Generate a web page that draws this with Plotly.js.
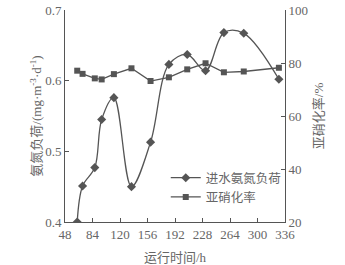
<!DOCTYPE html>
<html>
<head>
<meta charset="utf-8">
<script src="https://cdn.plot.ly/plotly-3.0.1.min.js"></script>
<style>html,body{margin:0;padding:0;background:#fff;}#chart{width:345px;height:265px;}</style>
</head>
<body>
<div id="chart"></div>
<script>
const hours = [64, 71, 87, 96, 112, 135, 160, 184, 208, 232, 256, 282, 328];
const ammoniaLoad = [0.40, 0.451, 0.477, 0.545, 0.576, 0.450, 0.513, 0.623, 0.637, 0.614, 0.668, 0.667, 0.602];
const nitritationRate = [77.1, 75.9, 74.2, 73.8, 75.8, 78.0, 73.2, 74.6, 77.6, 79.9, 76.5, 76.8, 78.2];
const xTicks = [48, 84, 120, 156, 192, 228, 264, 300, 336];
const seriesNames = ['进水氨氮负荷', '亚硝化率'];

const fontFam = '"Liberation Serif", "Noto Sans CJK SC", serif';
const ink = '#555';
const txt = '#666';

const traces = [
  {
    x: hours, y: ammoniaLoad, name: seriesNames[0], type: 'scatter', mode: 'lines+markers',
    line: {color: ink, width: 1.3, shape: 'spline', smoothing: 1.0},
    marker: {symbol: 'diamond', size: 7, color: ink},
    yaxis: 'y'
  },
  {
    x: hours, y: nitritationRate, name: seriesNames[1], type: 'scatter', mode: 'lines+markers',
    line: {color: ink, width: 1.3},
    marker: {symbol: 'square', size: 6, color: ink},
    yaxis: 'y2'
  }
];

const layout = {
  width: 345, height: 265,
  margin: {l: 65, r: 60, t: 10, b: 43},
  paper_bgcolor: '#fff', plot_bgcolor: '#fff',
  font: {family: fontFam, size: 13, color: txt},
  showlegend: true,
  legend: {
    x: 0.458, y: 0.278, xanchor: 'left', yanchor: 'top',
    bgcolor: 'rgba(0,0,0,0)', font: {size: 12.5, color: txt},
    tracegroupgap: 0, itemwidth: 30
  },
  xaxis: {
    range: [48, 336], tickvals: xTicks, ticktext: xTicks.map(String),
    showline: true, linecolor: ink, linewidth: 1, mirror: false,
    ticks: 'inside', ticklen: 4, tickcolor: ink, showgrid: false, zeroline: false,
    title: {text: '运行时间/h', standoff: 13, font: {size: 13, color: txt}}
  },
  yaxis: {
    range: [0.4, 0.7], dtick: 0.1, tickformat: '.1f',
    showline: true, linecolor: ink, linewidth: 1,
    ticks: 'inside', ticklen: 4, tickcolor: ink, showgrid: false, zeroline: false,
    title: {text: '氨氮负荷/(mg·m<sup>-3</sup>·d<sup>-1</sup>)', standoff: 0, font: {size: 13, color: txt}}
  },
  yaxis2: {
    range: [20, 100], dtick: 20, overlaying: 'y', side: 'right',
    showline: true, linecolor: ink, linewidth: 1,
    ticks: 'inside', ticklen: 4, tickcolor: ink, showgrid: false, zeroline: false,
    title: {text: '亚硝化率/%', standoff: 6, font: {size: 13, color: txt}}
  }
};

Plotly.newPlot('chart', traces, layout, {displayModeBar: false, staticPlot: true});
</script>
</body>
</html>
